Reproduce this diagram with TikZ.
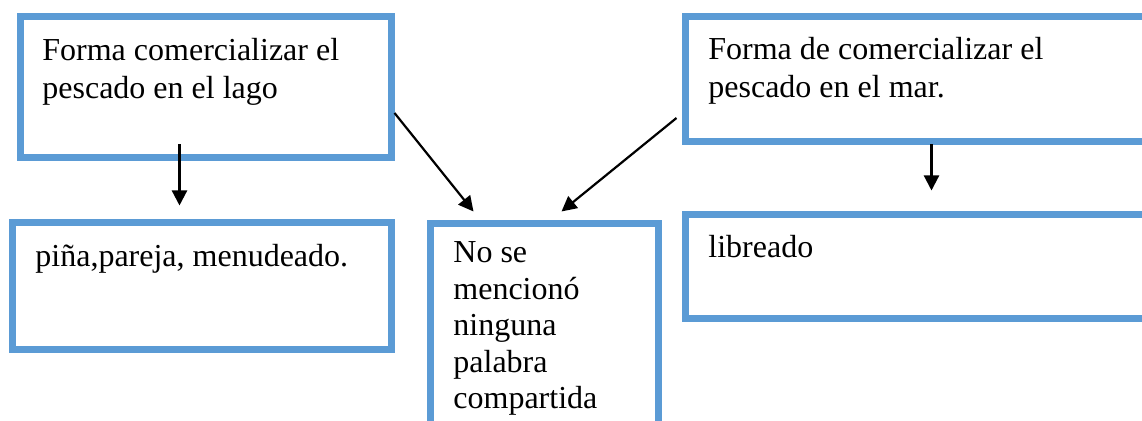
\documentclass[tikz,border=0pt]{standalone}
\usepackage{fontspec}
\setmainfont{Liberation Serif}
\usetikzlibrary{arrows.meta}
\definecolor{boxblue}{HTML}{5B9BD5}
\begin{document}
\begin{tikzpicture}[x=0.5pt,y=-0.5pt,
  box/.style={draw=boxblue, line width=3.5pt, fill=white, inner sep=0pt},
  lbl/.style={anchor=base west, inner sep=0pt, align=left, font=\fontsize{16pt}{19pt}\selectfont},
  arr/.style={line width=1.1pt, -{Triangle[length=7.5pt,width=7.5pt]}}]
\useasboundingbox (0,0) rectangle (1142,421);
\clip (0,0) rectangle (1142,421);
\node[box, minimum width=185.5pt, minimum height=70.5pt] (b1) at (205.5,87.5) {};
\node[box, minimum width=230pt, minimum height=62.5pt] (b2) at (915,79.5) {};
\node[box, minimum width=189.5pt, minimum height=63.5pt] (b3) at (201.5,286.5) {};
\node[box, minimum width=114pt, minimum height=138pt] (b4) at (544,362) {};
\node[box, minimum width=232.5pt, minimum height=52pt] (b5) at (917.5,267) {};
\node[lbl] (t1) at (42,99) {Forma comercializar el\\pescado en el lago};
\node[lbl] (t2) at (708,98) {Forma de comercializar el\\pescado en el mar.};
\node[lbl] (t3) at (35,267) {piña,pareja, menudeado.};
\node[lbl, font=\fontsize{16pt}{18.25pt}\selectfont] (t4) at (453,409) {No se\\mencionó\\ninguna\\palabra\\compartida};
\node[lbl] (t5) at (708,258) {libreado};
\draw[arr] (b1.south west) ++(163,-17) -- ++(0,61);
\draw[arr] (b2.south west) ++(250,-1) -- ++(0,46);
\draw[arr] ([yshift=-12.75pt]b1.east) -- ([shift={(23.5pt,4.5pt)}]b4.north west);
\draw[arr] ([shift={(-2.5pt,-19.25pt)}]b2.west) -- ([shift={(67.5pt,4.5pt)}]b4.north west);
\end{tikzpicture}
\end{document}
